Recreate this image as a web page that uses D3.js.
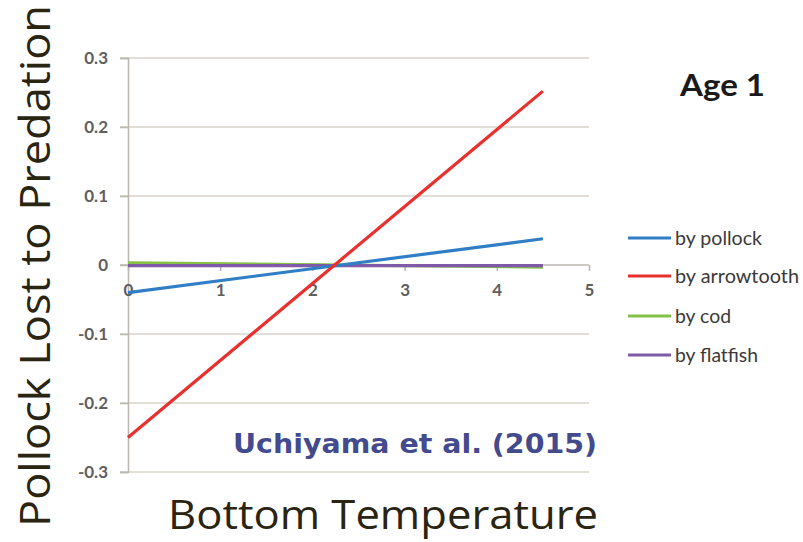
<!DOCTYPE html>
<html>
<head>
<meta charset="utf-8">
<script src="https://cdn.jsdelivr.net/npm/d3@7"></script>
<style>
  html, body { margin: 0; padding: 0; background: #fff; }
  svg { display: block; }
</style>
</head>
<body>
<svg id="chart" width="803" height="542"></svg>
<script>
// Temperature values where each fitted line is evaluated
const temps = [0, 4.5];

// Fraction of pollock lost to predation, per predator
const byPollock    = [-0.040, 0.038];
const byArrowtooth = [-0.250, 0.252];
const byCod        = [0.003, -0.003];
const byFlatfish   = [-0.001, -0.001];

const seriesNames  = ["by pollock", "by arrowtooth", "by cod", "by flatfish"];
const seriesColors = ["#2f7ec6", "#e8302f", "#86c046", "#7e5aa8"];

const xTicks = [0, 1, 2, 3, 4, 5];
const yTicks = [-0.3, -0.2, -0.1, 0, 0.1, 0.2, 0.3];
const yTickLabels = ["-0.3", "-0.2", "-0.1", "0", "0.1", "0.2", "0.3"];

const svg = d3.select("#chart");

const x = d3.scaleLinear().domain([0, 5]).range([128, 589]);
const y = d3.scaleLinear().domain([-0.3, 0.3]).range([472, 58]);

const tickFont = "Lato, 'Open Sans', sans-serif";

// Horizontal gridlines (all except zero, which is the axis)
svg.append("g")
  .selectAll("line")
  .data(yTicks.filter(d => d !== 0))
  .join("line")
  .attr("x1", 120).attr("x2", x(5))
  .attr("y1", d => y(d)).attr("y2", d => y(d))
  .attr("stroke", "#d8d4cc").attr("stroke-width", 1.6);

// Vertical value axis with left-pointing ticks
const yAxis = d3.axisLeft(y)
  .tickValues(yTicks)
  .tickSize(8)
  .tickPadding(12)
  .tickFormat((d, i) => yTickLabels[i]);
const gy = svg.append("g").attr("transform", `translate(${x(0)},0)`).call(yAxis);
gy.select(".domain").attr("stroke", "#bdb9b2").attr("stroke-width", 1.6);
gy.selectAll(".tick line").attr("stroke", "#bdb9b2").attr("stroke-width", 1.6);
gy.selectAll(".tick text")
  .attr("font-family", tickFont)
  .attr("font-weight", "700")
  .attr("font-size", 17)
  .attr("fill", "#5f5f5f");

// Horizontal category axis crossing at zero
const xAxis = d3.axisBottom(x)
  .tickValues(xTicks)
  .tickSize(6)
  .tickPadding(13)
  .tickSizeOuter(0)
  .tickFormat(d3.format("d"));
const gx = svg.append("g").attr("transform", `translate(0,${y(0)})`).call(xAxis);
gx.select(".domain").attr("stroke", "#bdb9b2").attr("stroke-width", 1.6)
  .attr("d", `M120,0H${x(5)}`);
gx.selectAll(".tick line").attr("stroke", "#bdb9b2").attr("stroke-width", 1.6);
gx.selectAll(".tick text")
  .attr("font-family", tickFont)
  .attr("font-weight", "700")
  .attr("font-size", 17)
  .attr("fill", "#5f5f5f");

// Series lines
const series = [byPollock, byArrowtooth, byCod, byFlatfish].map((vals, i) => ({
  name: seriesNames[i],
  color: seriesColors[i],
  points: temps.map((t, j) => [t, vals[j]])
}));

const line = d3.line().x(d => x(d[0])).y(d => y(d[1]));

// draw cod first so the flatfish line sits on top of it
const drawOrder = [2, 3, 0, 1];
svg.append("g")
  .selectAll("path")
  .data(drawOrder.map(i => series[i]))
  .join("path")
  .attr("d", d => line(d.points))
  .attr("fill", "none")
  .attr("stroke", d => d.color)
  .attr("stroke-width", 3.2)
  .attr("stroke-linecap", "butt");

// Legend
const legend = svg.append("g");
const legendY = [238, 276, 316, 355];
const legendWidths = [87, 124, 56, 83];
series.forEach((s, i) => {
  legend.append("line")
    .attr("x1", 628).attr("x2", 671)
    .attr("y1", legendY[i]).attr("y2", legendY[i])
    .attr("stroke", s.color).attr("stroke-width", 3.2);
  legend.append("text")
    .attr("x", 675).attr("y", legendY[i] + 7)
    .attr("font-family", tickFont)
    .attr("font-size", 20)
    .attr("textLength", legendWidths[i])
    .attr("lengthAdjust", "spacingAndGlyphs")
    .attr("fill", "#3a3a3a")
    .text(s.name);
});

// Panel title
svg.append("text")
  .attr("x", 680).attr("y", 96)
  .attr("font-family", tickFont)
  .attr("font-weight", "700")
  .attr("font-size", 31)
  .attr("textLength", 85)
  .attr("lengthAdjust", "spacingAndGlyphs")
  .attr("fill", "#1a1a1a")
  .text("Age 1");

// Source citation
svg.append("text")
  .attr("x", 233).attr("y", 453)
  .attr("font-family", "'DejaVu Sans', Verdana, sans-serif")
  .attr("font-weight", "700")
  .attr("font-size", 26)
  .attr("textLength", 364)
  .attr("lengthAdjust", "spacingAndGlyphs")
  .attr("fill", "#434a8e")
  .text("Uchiyama et al. (2015)");

// Axis titles
svg.append("text")
  .attr("x", 168).attr("y", 529)
  .attr("font-family", "'Open Sans', 'DejaVu Sans', sans-serif")
  .attr("font-size", 41)
  .attr("textLength", 430)
  .attr("lengthAdjust", "spacingAndGlyphs")
  .attr("fill", "#2a2412")
  .text("Bottom Temperature");

svg.append("text")
  .attr("transform", "translate(50,527) rotate(-90)")
  .attr("font-family", "'Open Sans', 'DejaVu Sans', sans-serif")
  .attr("font-size", 42)
  .attr("textLength", 522)
  .attr("lengthAdjust", "spacingAndGlyphs")
  .attr("fill", "#2a2412")
  .text("Pollock Lost to Predation");
</script>
</body>
</html>
